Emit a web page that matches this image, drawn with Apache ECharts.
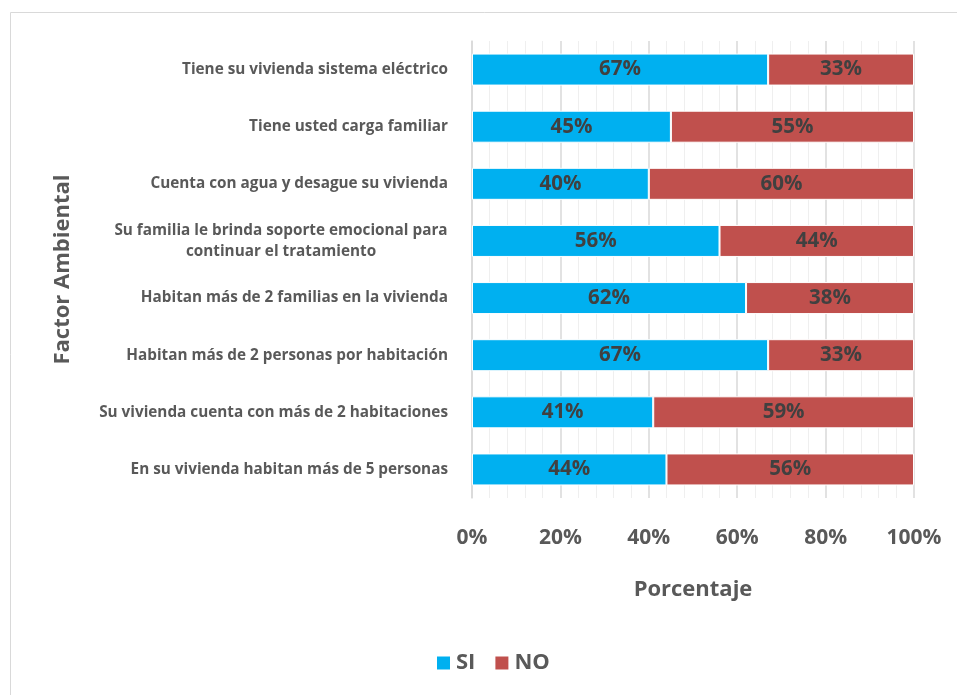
<!DOCTYPE html>
<html><head><meta charset="utf-8">
<script src="https://cdn.jsdelivr.net/npm/echarts@6/dist/echarts.min.js"></script>
<style>html,body{margin:0;padding:0;background:#fff}#c{width:957px;height:695px}</style>
</head><body><div id="c"></div>
<script>
const categories = [
  "Tiene su vivienda sistema eléctrico",
  "Tiene usted carga familiar",
  "Cuenta con agua y desague su vivienda",
  "Su familia le brinda soporte emocional para\ncontinuar el tratamiento",
  "Habitan más de 2 familias en la vivienda",
  "Habitan más de 2 personas por habitación",
  "Su vivienda cuenta con más de 2 habitaciones",
  "En su vivienda habitan más de 5 personas"
];
const siValues = [67, 45, 40, 56, 62, 67, 41, 44];
const noValues = [33, 55, 60, 44, 38, 33, 59, 56];
const font = '"Open Sans", "Noto Sans", sans-serif';
const chart = echarts.init(document.getElementById('c'));
const lbl = {show: true, position: 'inside', formatter: '{c}%', color: '#404040', fontSize: 20.5, fontWeight: 'bold', fontFamily: font};
chart.setOption({
  animation: false,
  graphic: [{type: 'rect', shape: {x: 10.5, y: 12.5, width: 960, height: 700}, style: {fill: 'none', stroke: '#d9d9d9', lineWidth: 1}, z: -1}],
  grid: {left: 472, right: 43, top: 41, bottom: 197},
  legend: {
    left: 430, top: 647, itemWidth: 15, itemHeight: 15, itemGap: 18,
    icon: 'rect',
    textStyle: {color: '#595959', fontSize: 22, fontWeight: 'bold', fontFamily: font, padding: [0, 0, 0, 0]},
    data: ['SI', 'NO']
  },
  xAxis: {
    type: 'value', min: 0, max: 100, interval: 20,
    name: 'Porcentaje', nameLocation: 'middle', nameGap: 81,
    nameTextStyle: {color: '#595959', fontSize: 22, fontWeight: 'bold', fontFamily: font},
    axisLabel: {formatter: '{value}%', color: '#595959', fontSize: 21, fontWeight: 'bold', fontFamily: font, margin: 30},
    axisLine: {show: false}, axisTick: {show: false},
    splitLine: {show: true, lineStyle: {color: '#d9d9d9', width: 1.5}},
    minorTick: {show: false, splitNumber: 5},
    minorSplitLine: {show: true, lineStyle: {color: '#efefef', width: 1}}
  },
  yAxis: {
    type: 'category', data: categories, inverse: true,
    name: 'Factor Ambiental', nameLocation: 'middle', nameGap: 398,
    nameTextStyle: {color: '#595959', fontSize: 22, fontWeight: 'bold', fontFamily: font},
    axisLine: {show: true, lineStyle: {color: '#d9d9d9', width: 1.5}},
    axisTick: {show: false},
    axisLabel: {
      color: '#595959', fontSize: 15.3, fontWeight: 'bold', fontFamily: font, margin: 24, lineHeight: 21, align: 'right',
      formatter: function (v) {
        if (v.indexOf('\n') < 0) return v;
        return v.split('\n').map(function (s) { return '{c|' + s + '}'; }).join('\n');
      },
      rich: {c: {width: 334, align: 'center', color: '#595959', fontSize: 15.3, fontWeight: 'bold', fontFamily: font, lineHeight: 21}}
    }
  },
  series: [
    {name: 'SI', type: 'bar', stack: 'a', data: siValues, barWidth: 32, itemStyle: {color: '#00b0f0', borderColor: '#fff', borderWidth: 1}, label: lbl},
    {name: 'NO', type: 'bar', stack: 'a', data: noValues, barWidth: 32, itemStyle: {color: '#c0504d', borderColor: '#fff', borderWidth: 1}, label: lbl}
  ]
});
</script></body></html>
